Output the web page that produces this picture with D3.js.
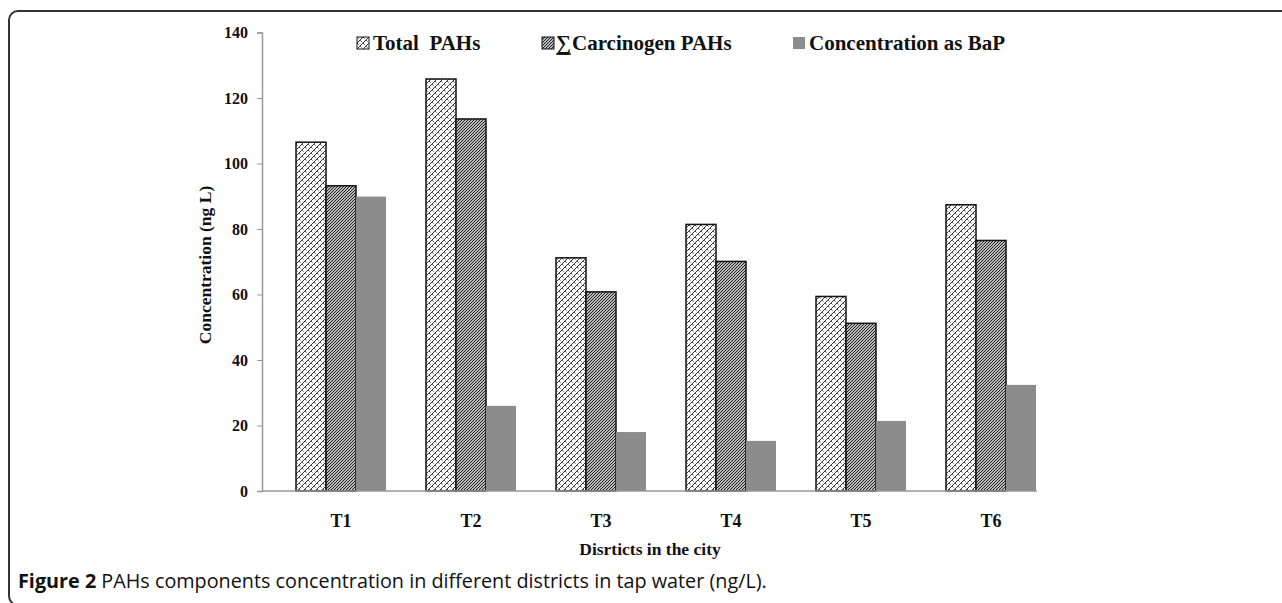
<!DOCTYPE html>
<html>
<head>
  <style>
    body { margin: 0; background: #fff; }
    svg { display: block; }
  </style>
</head>
<body>
  <div id="chart"></div>

  <script src="https://d3js.org/d3.v7.min.js"></script>
  <script>
    // dados
    const districts = ["T1", "T2", "T3", "T4", "T5", "T6"];
    const seriesNames = ["Total\u00a0 PAHs", "Carcinogen PAHs", "Concentration as BaP"];
    const totalPAHs = [106.5, 125.8, 71.2, 81.4, 59.4, 87.4];
    const carcinogenPAHs = [93.2, 113.6, 60.8, 70.1, 51.2, 76.5];
    const bapConc = [89.9, 26.0, 18.0, 15.3, 21.4, 32.4];
    const yTicks = [0, 20, 40, 60, 80, 100, 120, 140];

    const width = 1282, height = 603;
    const serif = "'Liberation Serif', 'Times New Roman', serif";
    const svg = d3.select("#chart").append("svg")
      .attr("width", width).attr("height", height);

    // padrões de preenchimento
    const defs = svg.append("defs");
    const weave = defs.append("pattern").attr("id", "weave")
      .attr("patternUnits", "userSpaceOnUse").attr("width", 6).attr("height", 6);
    weave.append("rect").attr("width", 6).attr("height", 6).attr("fill", "#fff");
    weave.append("path").attr("d", "M-1,7 L7,-1 M-1,1 L1,-1 M5,7 L7,5")
      .attr("stroke", "#333").attr("stroke-width", 1);
    weave.append("path").attr("d", "M0,0 L1.6,1.6 M3,3 L4.6,4.6")
      .attr("stroke", "#555").attr("stroke-width", 1);

    const diag = defs.append("pattern").attr("id", "diag")
      .attr("patternUnits", "userSpaceOnUse").attr("width", 3).attr("height", 3);
    diag.append("rect").attr("width", 3).attr("height", 3).attr("fill", "#fff");
    diag.append("path").attr("d", "M-1,4 L4,-1 M-1,1 L1,-1 M2,4 L4,2")
      .attr("stroke", "#111").attr("stroke-width", 1.1);

    const fills = ["url(#weave)", "url(#diag)", "#8c8c8c"];
    const strokes = ["#111", "#111", "none"];

    // moldura da figura
    svg.append("rect")
      .attr("x", 9).attr("y", 11).attr("width", 1320).attr("height", 594)
      .attr("rx", 9).attr("fill", "none")
      .attr("stroke", "#333").attr("stroke-width", 2);

    // escalas
    const y = d3.scaleLinear().domain([0, 140]).range([491, 32.5]);
    const x = d3.scaleBand().domain(districts).range([276, 1056]);
    const x1 = d3.scaleBand().domain([0, 1, 2]).range([0, 90]);
    const offset = (x.bandwidth() - 90) / 2;

    const rows = districts.map((d, i) => ({
      district: d,
      values: [totalPAHs[i], carcinogenPAHs[i], bapConc[i]]
    }));

    // eixo y
    const yAxis = svg.append("g").attr("transform", "translate(262,0)")
      .call(d3.axisLeft(y).tickValues(yTicks).tickSize(5).tickPadding(9));
    yAxis.select(".domain").attr("stroke", "#999").attr("stroke-width", 1.5);
    yAxis.selectAll(".tick line").attr("stroke", "#999");
    yAxis.selectAll(".tick text")
      .attr("font-family", serif)
      .attr("font-weight", "bold").attr("font-size", 16).attr("fill", "#111");

    // barras
    const groups = svg.selectAll("g.grp").data(rows).enter().append("g")
      .attr("class", "grp")
      .attr("transform", d => `translate(${x(d.district) + offset},0)`);
    groups.selectAll("rect").data(d => d.values).enter().append("rect")
      .attr("x", (v, i) => x1(i))
      .attr("y", v => y(v))
      .attr("width", x1.bandwidth())
      .attr("height", v => y(0) - y(v))
      .attr("fill", (v, i) => fills[i])
      .attr("stroke", (v, i) => strokes[i])
      .attr("stroke-width", 1.5);

    // eixo x (linha)
    svg.append("line")
      .attr("x1", 262).attr("x2", 1037)
      .attr("y1", y(0)).attr("y2", y(0))
      .attr("stroke", "#999").attr("stroke-width", 1.5);

    // rótulos das categorias
    svg.selectAll("text.cat").data(districts).enter().append("text")
      .attr("class", "cat")
      .attr("x", d => x(d) + x.bandwidth() / 2)
      .attr("y", 527)
      .attr("text-anchor", "middle")
      .attr("font-family", serif)
      .attr("font-weight", "bold").attr("font-size", 18).attr("fill", "#111")
      .text(d => d);

    // títulos dos eixos
    svg.append("text")
      .attr("x", 650).attr("y", 555)
      .attr("text-anchor", "middle")
      .attr("font-family", serif)
      .attr("font-weight", "bold").attr("font-size", 17.5).attr("fill", "#111")
      .text("Disrticts in the city");

    svg.append("text")
      .attr("transform", "translate(211,265) rotate(-90)")
      .attr("text-anchor", "middle")
      .attr("font-family", serif)
      .attr("font-weight", "bold").attr("font-size", 17.5).attr("fill", "#111")
      .text("Concentration (ng L)");

    // legenda
    const legendX = [357, 542, 793];
    const legend = svg.selectAll("g.leg").data(seriesNames).enter().append("g")
      .attr("class", "leg")
      .attr("transform", (d, i) => `translate(${legendX[i]},37)`);
    legend.append("rect")
      .attr("width", 12).attr("height", 12)
      .attr("fill", (d, i) => fills[i])
      .attr("stroke", (d, i) => strokes[i]).attr("stroke-width", 1);
    legend.each(function (d, i) {
      const g = d3.select(this);
      let tx = 16;
      if (i === 1) {
        const sig = g.append("text")
          .attr("x", 14).attr("y", 13)
          .attr("font-family", serif)
          .attr("font-weight", "bold").attr("font-size", 21).attr("fill", "#111")
          .text("∑");
        const w = sig.node().getComputedTextLength();
        g.append("line")
          .attr("x1", 14).attr("x2", 14 + w)
          .attr("y1", 17).attr("y2", 17)
          .attr("stroke", "#111").attr("stroke-width", 1.3);
        tx = 14 + w + 1;
      }
      g.append("text")
        .attr("x", tx).attr("y", 13)
        .attr("font-family", serif)
        .attr("font-weight", "bold").attr("font-size", 21).attr("fill", "#111")
        .text(d);
    });

    // legenda da figura
    const cap = svg.append("text")
      .attr("x", 18).attr("y", 588)
      .attr("font-family", "'Open Sans', 'Noto Sans', sans-serif")
      .attr("font-size", 19.8).attr("fill", "#111");
    cap.append("tspan").attr("font-weight", "bold").text("Figure 2");
    cap.append("tspan").text(" PAHs components concentration in different districts in tap water (ng/L).");
  </script>
</body>
</html>
